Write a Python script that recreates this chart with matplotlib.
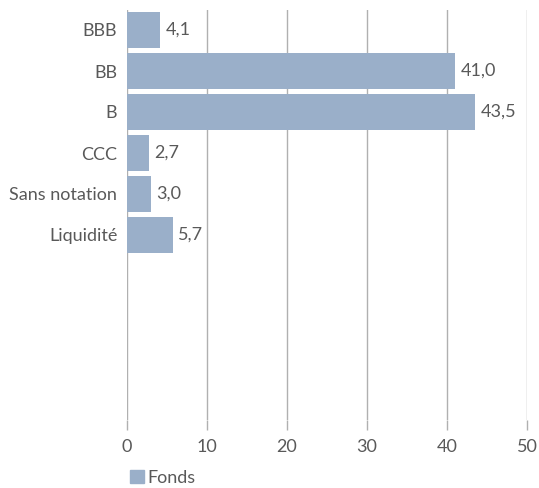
import matplotlib
matplotlib.use('Agg')
import matplotlib.pyplot as plt
from matplotlib.patches import Patch

#%% DATA
categories = ['BBB', 'BB', 'B', 'CCC', 'Sans notation', 'Liquidité']
values = [4.1, 41.0, 43.5, 2.7, 3.0, 5.7]
value_labels = ['4,1', '41,0', '43,5', '2,7', '3,0', '5,7']
x_ticks = [0, 10, 20, 30, 40, 50]
n_slots = 10  # chart keeps room for empty rows below

bar_color = '#9aafc9'
text_color = '#595959'
grid_color = '#b0b0b0'
fs = 13

plt.rcParams['font.family'] = ['Lato', 'DejaVu Sans']

#%% PLOT
fig = plt.figure(figsize=(5.39, 4.88), dpi=100)
ax = fig.add_axes([127 / 539, 1 - 419.5 / 488, 400 / 539, 410 / 488])

ypos = list(range(len(categories)))
ax.barh(ypos, values, height=0.86, color=bar_color, zorder=2)

for y, v, lab in zip(ypos, values, value_labels):
    ax.text(v + 0.7, y, lab, va='center', ha='left', fontsize=fs, color=text_color)

ax.set_ylim(n_slots - 0.5, -0.5)
ax.set_xlim(0, 50)
ax.set_yticks(ypos)
ax.set_yticklabels(categories, fontsize=fs, color=text_color)
ax.set_xticks(x_ticks)
ax.set_xticklabels([str(t) for t in x_ticks], fontsize=fs, color=text_color)

ax.tick_params(axis='y', length=0, pad=7)
ax.tick_params(axis='x', length=7, color=grid_color, width=1, pad=7)
ax.grid(axis='x', color=grid_color, linewidth=1, zorder=0)
for s in ax.spines.values():
    s.set_visible(False)

leg = fig.legend(handles=[Patch(color=bar_color, label='Fonds')],
                 loc='center left', bbox_to_anchor=(123 / 539, 1 - 478 / 488),
                 frameon=False, fontsize=fs, handlelength=0.75, handleheight=0.75,
                 handletextpad=0.2, borderaxespad=0)
for t in leg.get_texts():
    t.set_color(text_color)

fig.savefig('out.png', dpi=100)
